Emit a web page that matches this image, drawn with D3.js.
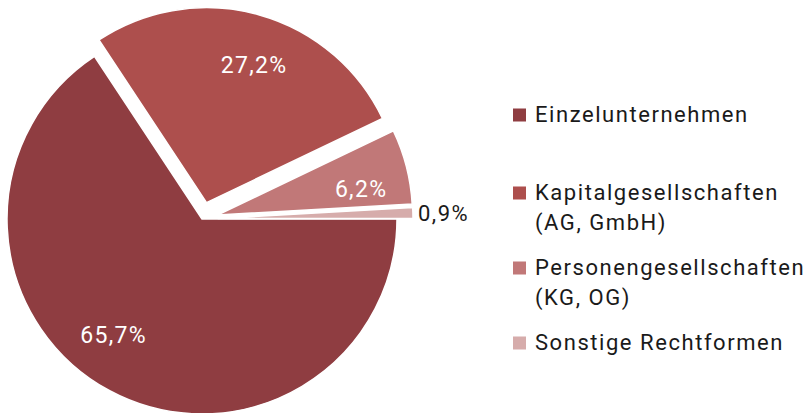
<!DOCTYPE html>
<html>
<head>
<meta charset="utf-8">
<script src="https://cdn.jsdelivr.net/npm/d3@7"></script>
<style>
  body { margin: 0; background: #fff; }
  text { font-family: Roboto, "DejaVu Sans", sans-serif; }
</style>
</head>
<body>
<script>
// categories and shares (percent)
var categories = ['Einzelunternehmen', 'Kapitalgesellschaften', 'Personengesellschaften', 'Sonstige Rechtformen'];
var legendLines = [['Einzelunternehmen'], ['Kapitalgesellschaften', '(AG, GmbH)'], ['Personengesellschaften', '(KG, OG)'], ['Sonstige Rechtformen']];
var values = [65.7, 27.2, 6.2, 0.9];
var labels = ['65,7%', '27,2%', '6,2%', '0,9%'];
var colors = ['#8f3d41', '#ad4f4d', '#c17878', '#d6acab'];

var width = 812, height = 413;
var cx = 202, cy = 219, r = 195;

var svg = d3.select('body').append('svg')
  .attr('width', width)
  .attr('height', height);

// pie starts at 3 o'clock and runs clockwise, keep data order
var pie = d3.pie()
  .sort(null)
  .startAngle(Math.PI / 2)
  .endAngle(Math.PI / 2 + 2 * Math.PI)
  .value(function(d) { return d; });

var arcs = pie(values);

var arc = d3.arc().innerRadius(0).outerRadius(r);
var labelArc = d3.arc().innerRadius(146).outerRadius(146);

// how far each slice is pulled out of the pie
var explode = [0, 17, 16, 16];
// small angle nudges for the inside labels (degrees)
var labelNudge = [9, 3.5, 4, 0];

function offset(d, i) {
  var a = (d.startAngle + d.endAngle) / 2;
  return [Math.sin(a) * explode[i], -Math.cos(a) * explode[i]];
}

var g = svg.append('g').attr('transform', 'translate(' + cx + ',' + cy + ')');

var slices = g.selectAll('g.slice')
  .data(arcs)
  .enter().append('g')
  .attr('class', 'slice')
  .attr('transform', function(d, i) { return 'translate(' + offset(d, i) + ')'; });

slices.append('path')
  .attr('d', arc)
  .attr('fill', function(d, i) { return colors[i]; })
  .attr('stroke', '#fff')
  .attr('stroke-width', 1.5)
  .attr('stroke-linejoin', 'round');

// inside labels (white), skip the tiny slice
slices.filter(function(d, i) { return i < 3; })
  .append('text')
  .attr('transform', function(d, i) {
    var n = labelNudge[i] * Math.PI / 180;
    var p = labelArc.centroid({startAngle: d.startAngle + n, endAngle: d.endAngle + n});
    return 'translate(' + p + ')';
  })
  .attr('text-anchor', 'middle')
  .attr('dy', '0.36em')
  .attr('fill', '#fff')
  .attr('font-size', 23)
  .attr('letter-spacing', 1.3)
  .text(function(d, i) { return labels[i]; });

// outside label for the tiny slice
var small = arcs[3];
var smallOff = offset(small, 3);
g.append('text')
  .attr('x', r + smallOff[0] + 5)
  .attr('y', (-Math.cos((small.startAngle + small.endAngle) / 2) * r) + smallOff[1])
  .attr('dy', '0.36em')
  .attr('fill', '#1a1a1a')
  .attr('font-size', 22)
  .attr('letter-spacing', 1.5)
  .text(labels[3]);

// legend
var legendY = [122, 200, 275, 350];
var legend = svg.selectAll('g.legend')
  .data(legendLines)
  .enter().append('g')
  .attr('class', 'legend')
  .attr('transform', function(d, i) { return 'translate(513,' + legendY[i] + ')'; });

legend.append('rect')
  .attr('x', 0)
  .attr('y', -13.5)
  .attr('width', 13)
  .attr('height', 13)
  .attr('fill', function(d, i) { return colors[i]; });

legend.append('text')
  .attr('x', 22)
  .attr('fill', '#1a1a1a')
  .attr('font-size', 22)
  .attr('letter-spacing', 1.55)
  .selectAll('tspan')
  .data(function(d) { return d; })
  .enter().append('tspan')
  .attr('x', 22)
  .attr('dy', function(d, j) { return j === 0 ? 0 : 30; })
  .text(function(d) { return d; });
</script>
</body>
</html>
